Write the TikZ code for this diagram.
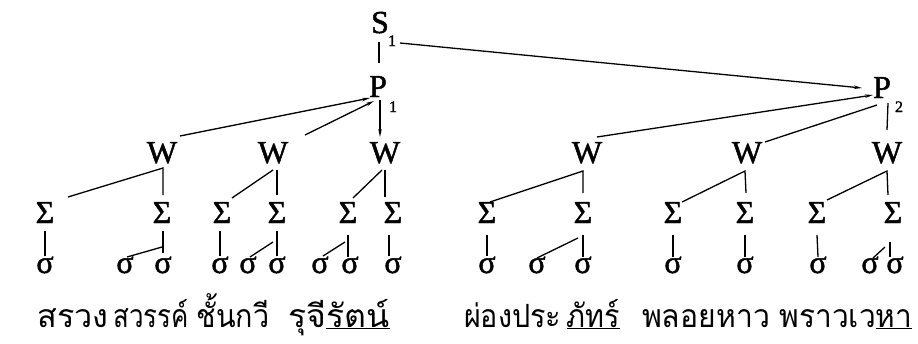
\documentclass[tikz,border=0pt]{standalone}
\usepackage{fontspec}
\usepackage{graphicx}
\setmainfont{Liberation Serif}
\newfontfamily\symfont[FakeBold=1.5]{Liberation Serif}
\newfontfamily\thaifont[Script=Thai,FakeStretch=0.88]{Loma}
\usetikzlibrary{arrows.meta,calc}
\tikzset{
  sym/.style={anchor=base,inner sep=0pt,font=\symfont\fontsize{32}{32}\selectfont},
  sub/.style={anchor=base,inner sep=0pt,font=\symfont\fontsize{16}{16}\selectfont},
  word/.style={anchor=base,inner sep=0pt,font=\thaifont\fontsize{32}{32}\selectfont},
  ln/.style={line width=1.3pt},
  arr/.style={line width=1.3pt,-{Stealth[length=8pt,width=3.5pt]}}
}
\begin{document}
\begin{tikzpicture}[x=1pt,y=-1pt]
\useasboundingbox (0,0) rectangle (918,343);
% top
\node[sym] (s1) at (380,33) {S};
\node[sub] (s1n) at (392,46) {1};
\node[sym] (p1) at (378,97) {P};
\node[sub] (p1n) at (393,112) {1};
\node[sym] (p2) at (882,98) {P};
\node[sub] (p2n) at (899,112) {2};
% W
\foreach \n/\x in {w1/162,w2/273,w3/385,w4/587,w5/747,w6/887}
  \node[sym] (\n) at (\x,163) {W};
% Sigma
\foreach \n/\x in {g1/45,g2/162,g3/222,g4/277,g5/348,g6/393,g7/487,g8/583,g9/673,g10/745,g11/817,g12/893}
  \node[sym] (\n) at (\x,223) {Σ};
% sigma
\foreach \n/\x in {o1/45,o2/125,o3/163,o4/220,o5/248,o6/277,o7/320,o8/350,o9/393,o10/487,o11/537,o12/583,o13/673,o14/745,o15/818,o16/870,o17/895}
  \node[sym] (\n) at (\x,273) {σ};
% words
\node[word] (t1) at (73,327) {\scalebox{1.15}[1]{สรวง}};
\node[word] (t2) at (151,327) {\scalebox{0.92}[1]{สวรรค์}};
\node[word] (t3) at (233,327) {\scalebox{1.02}[1]{ชั้นกวี}};
\node[word] (t4) at (339,327) {\scalebox{1.2}[1]{รุจี\underline{รัตน์}}};
\node[word] (t5) at (542,327) {\scalebox{1.02}[1]{ผ่องประ\,\underline{ภัทร์}}};
\node[word] (t6) at (706,327) {\scalebox{1.07}[1]{พลอยหาว}};
\node[word] (t7) at (846,327) {\scalebox{1.06}[1]{พราวเว\underline{หา}}};
% S and P links
\draw[ln] ($(s1.base)+(-1,9)$) -- ($(p1.base)+(1,-34)$);
\draw[arr] ($(s1.base)+(20,10)$) -- ($(p2.base)+(-20,-10)$);
\draw[arr] ($(w1.base)+(18,-27)$) -- ($(p1.base)+(-8,1)$);
\draw[arr] ($(w2.base)+(32,-28)$) -- ($(p1.base)+(-4,4)$);
\draw[arr] ($(p1.base)+(2,3)$) -- ($(w3.base)+(-5,-26)$);
\draw[arr] ($(w4.base)+(10,-26)$) -- ($(p2.base)+(-9,-3)$);
\draw[ln] ($(w5.base)+(18,-21)$) -- ($(p2.base)+(-5,7)$);
\draw[ln] ($(p2.base)+(6,5)$) -- ($(w6.base)+(0,-33)$);
% W to Sigma
\draw[ln] ($(g1.base)+(23,-26)$) -- ($(w1.base)+(1,5)$) -- ($(g2.base)+(1,-28)$);
\draw[ln] ($(g3.base)+(10,-25)$) -- ($(w2.base)+(0,7)$);
\draw[ln] ($(w2.base)+(4,7)$) -- ($(g4.base)+(0,-28)$);
\draw[ln] ($(g5.base)+(5,-25)$) -- ($(w3.base)+(-3,7)$);
\draw[ln] ($(w3.base)+(0,7)$) -- ($(g6.base)+(-8,-26)$);
\draw[ln] ($(g7.base)+(3,-21)$) -- ($(w4.base)+(-4,8)$) -- ($(g8.base)+(0,-30)$);
\draw[ln] ($(g9.base)+(9,-21)$) -- ($(w5.base)+(-2,8)$) -- ($(g10.base)+(1,-30)$);
\draw[ln] ($(g11.base)+(10,-23)$) -- ($(w6.base)+(0,8)$) -- ($(g12.base)+(-5,-28)$);
% Sigma to sigma
\draw[ln] ($(g1.base)+(0,8)$) -- ($(o1.base)+(0,-17)$);
\draw[ln] ($(g2.base)+(1,8)$) -- ($(o3.base)+(0,-20)$);
\draw[ln] ($(g2.base)+(0,24)$) -- ($(o2.base)+(2,-16)$);
\draw[ln] ($(g3.base)+(-2,8)$) -- ($(o4.base)+(0,-17)$);
\draw[ln] ($(g4.base)+(0,8)$) -- ($(o6.base)+(0,-17)$);
\draw[ln] ($(g4.base)+(-4,19)$) -- ($(o5.base)+(2,-16)$);
\draw[ln] ($(g5.base)+(0,12)$) -- ($(o8.base)+(-2,-16)$);
\draw[ln] ($(g5.base)+(-3,19)$) -- ($(o7.base)+(3,-17)$);
\draw[ln] ($(g6.base)+(-4,12)$) -- ($(o9.base)+(-4,-17)$);
\draw[ln] ($(g7.base)+(0,12)$) -- ($(o10.base)+(0,-17)$);
\draw[ln] ($(g8.base)+(0,12)$) -- ($(o12.base)+(0,-16)$);
\draw[ln] ($(g8.base)+(-5,15)$) -- ($(o11.base)+(0,-15)$);
\draw[ln] ($(g9.base)+(0,12)$) -- ($(o13.base)+(0,-16)$);
\draw[ln] ($(g10.base)+(0,12)$) -- ($(o14.base)+(0,-16)$);
\draw[ln] ($(g11.base)+(0,12)$) -- ($(o15.base)+(0,-16)$);
\draw[ln] ($(g12.base)+(-3,19)$) -- ($(o17.base)+(-5,-16)$);
\draw[ln] ($(g12.base)+(-8,24)$) -- ($(o16.base)+(3,-15)$);
\end{tikzpicture}
\end{document}
